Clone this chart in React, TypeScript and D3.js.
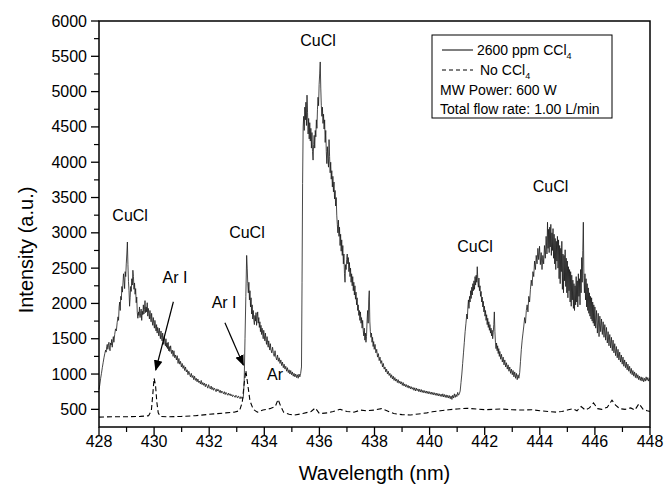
import React from "react";
import * as d3 from "d3";

// ---- Data ----
const xDomain: [number, number] = [428, 448];
const yDomain: [number, number] = [250, 6000];
const xMajorTicks = [428, 430, 432, 434, 436, 438, 440, 442, 444, 446, 448];
const yMajorTicks = [500, 1000, 1500, 2000, 2500, 3000, 3500, 4000, 4500, 5000, 5500, 6000];

// 2600 ppm CCl4 spectrum [wavelength nm, intensity a.u.]
const ccl4Spectrum: [number, number][] = [
  [428.00, 780], [428.03, 850], [428.06, 940], [428.09, 1010], [428.12, 1090], [428.15, 1160], [428.18, 1230], [428.21, 1290],
  [428.24, 1340], [428.26, 1310], [428.28, 1390], [428.30, 1420], [428.32, 1350], [428.34, 1400], [428.36, 1450], [428.38, 1370],
  [428.40, 1330], [428.42, 1440], [428.44, 1410], [428.46, 1490], [428.48, 1380], [428.50, 1460], [428.52, 1530], [428.54, 1450],
  [428.57, 1560], [428.60, 1640], [428.63, 1610], [428.66, 1730], [428.69, 1810], [428.71, 1760], [428.73, 1950], [428.75, 2020],
  [428.77, 1900], [428.79, 2100], [428.81, 2050], [428.83, 2240], [428.85, 2160], [428.87, 2290], [428.89, 2420], [428.91, 2330],
  [428.93, 2210], [428.95, 2450], [428.97, 2380], [428.99, 2560], [429.01, 2700], [429.03, 2870], [429.05, 2550], [429.07, 2310],
  [429.09, 2180], [429.11, 1960], [429.13, 2080], [429.15, 2240], [429.17, 2170], [429.19, 2350], [429.21, 2260], [429.23, 2470],
  [429.25, 2380], [429.27, 2200], [429.29, 2290], [429.31, 2130], [429.33, 2210], [429.35, 2010], [429.37, 2090], [429.39, 1870],
  [429.41, 1790], [429.43, 1880], [429.45, 1830], [429.47, 1950], [429.49, 1800], [429.51, 1860], [429.53, 1920], [429.55, 1760],
  [429.57, 1890], [429.59, 1840], [429.61, 1980], [429.63, 1850], [429.65, 1910], [429.67, 2040], [429.69, 1870], [429.71, 1950],
  [429.73, 1880], [429.75, 2010], [429.77, 1820], [429.79, 1930], [429.81, 1860], [429.83, 1780], [429.85, 1900], [429.87, 1810],
  [429.89, 1740], [429.91, 1860], [429.93, 1750], [429.95, 1690], [429.97, 1800], [429.99, 1720], [430.01, 1650], [430.03, 1760],
  [430.05, 1680], [430.07, 1610], [430.09, 1700], [430.11, 1580], [430.13, 1660], [430.15, 1620], [430.17, 1540], [430.19, 1650],
  [430.21, 1570], [430.23, 1500], [430.25, 1610], [430.27, 1520], [430.29, 1470], [430.31, 1580], [430.33, 1490], [430.35, 1420],
  [430.37, 1530], [430.39, 1460], [430.41, 1400], [430.43, 1500], [430.45, 1380], [430.47, 1440], [430.49, 1360], [430.51, 1450],
  [430.53, 1330], [430.55, 1390], [430.57, 1320], [430.60, 1400], [430.63, 1290], [430.66, 1340], [430.69, 1250], [430.72, 1330],
  [430.75, 1230], [430.78, 1270], [430.81, 1200], [430.84, 1260], [430.87, 1150], [430.90, 1220], [430.93, 1140], [430.96, 1180],
  [430.99, 1100], [431.02, 1150], [431.05, 1080], [431.08, 1120], [431.11, 1050], [431.14, 1100], [431.17, 1030], [431.20, 1060],
  [431.23, 990], [431.26, 1040], [431.29, 1000], [431.32, 960], [431.35, 1010], [431.38, 950], [431.41, 980], [431.44, 920],
  [431.47, 970], [431.50, 910], [431.53, 940], [431.56, 890], [431.59, 930], [431.62, 880], [431.65, 900], [431.68, 860],
  [431.71, 910], [431.74, 850], [431.77, 880], [431.80, 840], [431.83, 870], [431.86, 820], [431.89, 860], [431.92, 830],
  [431.95, 800], [431.98, 850], [432.01, 810], [432.04, 790], [432.07, 830], [432.10, 780], [432.13, 810], [432.16, 770],
  [432.19, 800], [432.22, 780], [432.25, 750], [432.28, 790], [432.31, 760], [432.34, 780], [432.37, 740], [432.40, 770],
  [432.43, 730], [432.46, 760], [432.49, 740], [432.52, 720], [432.55, 750], [432.58, 710], [432.61, 740], [432.64, 720],
  [432.67, 700], [432.70, 730], [432.73, 700], [432.76, 720], [432.79, 690], [432.82, 710], [432.85, 680], [432.88, 700],
  [432.91, 690], [432.94, 670], [432.97, 700], [433.00, 680], [433.03, 660], [433.06, 690], [433.09, 670], [433.12, 650],
  [433.15, 680], [433.18, 660], [433.21, 640], [433.24, 680], [433.27, 900], [433.30, 1500], [433.33, 2100], [433.36, 2680],
  [433.38, 2500], [433.40, 2280], [433.42, 2150], [433.44, 2300], [433.46, 2050], [433.48, 2180], [433.50, 1950], [433.52, 2080],
  [433.54, 1850], [433.56, 1980], [433.58, 1780], [433.60, 1900], [433.62, 1760], [433.64, 1700], [433.66, 1830], [433.68, 1750],
  [433.70, 1870], [433.72, 1690], [433.74, 1810], [433.76, 1880], [433.78, 1720], [433.80, 1800], [433.82, 1660], [433.84, 1740],
  [433.86, 1600], [433.88, 1690], [433.90, 1560], [433.92, 1650], [433.94, 1580], [433.96, 1500], [433.98, 1620], [434.00, 1540],
  [434.02, 1470], [434.04, 1580], [434.06, 1490], [434.08, 1420], [434.10, 1530], [434.12, 1450], [434.14, 1380], [434.16, 1470],
  [434.18, 1400], [434.20, 1340], [434.22, 1430], [434.24, 1350], [434.27, 1300], [434.30, 1380], [434.33, 1290], [434.36, 1250],
  [434.39, 1330], [434.42, 1240], [434.45, 1200], [434.48, 1270], [434.51, 1180], [434.54, 1230], [434.57, 1150], [434.60, 1200],
  [434.63, 1120], [434.66, 1170], [434.69, 1090], [434.72, 1140], [434.75, 1070], [434.78, 1110], [434.81, 1040], [434.84, 1090],
  [434.87, 1020], [434.90, 1060], [434.93, 1000], [434.96, 1050], [434.99, 990], [435.02, 1030], [435.05, 970], [435.08, 1010],
  [435.11, 960], [435.14, 1000], [435.17, 950], [435.20, 990], [435.23, 940], [435.26, 1000], [435.29, 960], [435.32, 1010],
  [435.35, 1100], [435.37, 2300], [435.39, 3700], [435.41, 4500], [435.43, 4650], [435.45, 4450], [435.47, 4780], [435.49, 4600],
  [435.51, 4850], [435.53, 4520], [435.55, 4950], [435.57, 4700], [435.59, 4400], [435.61, 4620], [435.63, 4330], [435.65, 4560],
  [435.67, 4300], [435.69, 4480], [435.71, 4200], [435.73, 4420], [435.75, 4150], [435.77, 4030], [435.79, 4250], [435.81, 4380],
  [435.83, 4200], [435.85, 4450], [435.87, 4360], [435.89, 4600], [435.91, 4480], [435.93, 4750], [435.95, 4920], [435.97, 4800],
  [435.99, 5100], [436.01, 5250], [436.03, 5420], [436.05, 5050], [436.07, 4800], [436.09, 4650], [436.11, 4780], [436.13, 4550],
  [436.15, 4680], [436.17, 4470], [436.19, 4600], [436.21, 4280], [436.23, 4450], [436.25, 4150], [436.27, 3980], [436.29, 4220],
  [436.31, 4050], [436.33, 3930], [436.35, 4320], [436.37, 4080], [436.39, 3850], [436.41, 4000], [436.43, 3760], [436.45, 3880],
  [436.47, 3650], [436.49, 3800], [436.51, 3580], [436.53, 3720], [436.55, 3480], [436.57, 3600], [436.59, 3380], [436.61, 3500],
  [436.63, 3250], [436.65, 3120], [436.67, 3000], [436.69, 3180], [436.71, 2950], [436.73, 3080], [436.75, 2820], [436.77, 2980],
  [436.79, 2740], [436.81, 2900], [436.83, 2680], [436.85, 2820], [436.87, 2560], [436.89, 2700], [436.91, 2420], [436.93, 2300],
  [436.95, 2550], [436.97, 2480], [436.99, 2620], [437.01, 2700], [437.03, 2560], [437.05, 2650], [437.07, 2450], [437.09, 2580],
  [437.11, 2380], [437.13, 2500], [437.15, 2300], [437.17, 2420], [437.19, 2250], [437.21, 2380], [437.23, 2180], [437.25, 2300],
  [437.27, 2120], [437.29, 2250], [437.31, 2060], [437.33, 2160], [437.35, 1980], [437.37, 2080], [437.39, 1900], [437.41, 1980],
  [437.43, 1830], [437.45, 1900], [437.47, 1760], [437.49, 1880], [437.51, 1720], [437.53, 1800], [437.55, 1650], [437.57, 1760],
  [437.59, 1620], [437.61, 1540], [437.63, 1650], [437.65, 1480], [437.67, 1580], [437.69, 1450], [437.71, 1530], [437.73, 1750],
  [437.75, 1900], [437.77, 1720], [437.79, 2050], [437.81, 2180], [437.83, 1750], [437.85, 1600], [437.87, 1520], [437.89, 1580],
  [437.91, 1450], [437.93, 1520], [437.95, 1390], [437.97, 1460], [437.99, 1350], [438.02, 1420], [438.05, 1300], [438.08, 1350],
  [438.11, 1240], [438.14, 1290], [438.17, 1190], [438.20, 1240], [438.23, 1150], [438.26, 1190], [438.29, 1100], [438.32, 1150],
  [438.35, 1070], [438.38, 1100], [438.41, 1030], [438.44, 1070], [438.47, 1000], [438.50, 1040], [438.53, 980], [438.56, 1010],
  [438.59, 950], [438.62, 990], [438.65, 930], [438.68, 970], [438.71, 910], [438.74, 950], [438.77, 900], [438.80, 930],
  [438.83, 880], [438.86, 920], [438.89, 870], [438.92, 900], [438.95, 860], [438.98, 890], [439.01, 840], [439.04, 880],
  [439.07, 830], [439.10, 860], [439.13, 820], [439.16, 850], [439.19, 810], [439.22, 840], [439.25, 800], [439.28, 830],
  [439.31, 790], [439.34, 820], [439.37, 785], [439.40, 810], [439.43, 770], [439.46, 805], [439.49, 760], [439.52, 800],
  [439.55, 765], [439.58, 790], [439.61, 750], [439.64, 785], [439.67, 745], [439.70, 780], [439.73, 740], [439.76, 770],
  [439.79, 735], [439.82, 765], [439.85, 730], [439.88, 760], [439.91, 725], [439.94, 755], [439.97, 720], [440.00, 750],
  [440.03, 715], [440.06, 745], [440.09, 710], [440.12, 740], [440.15, 705], [440.18, 735], [440.21, 700], [440.24, 730],
  [440.27, 695], [440.30, 725], [440.33, 690], [440.36, 720], [440.39, 685], [440.42, 715], [440.45, 680], [440.48, 720],
  [440.51, 675], [440.54, 710], [440.57, 670], [440.60, 705], [440.63, 665], [440.66, 700], [440.69, 660], [440.72, 695],
  [440.75, 650], [440.78, 690], [440.81, 640], [440.84, 700], [440.87, 660], [440.90, 720], [440.93, 670], [440.96, 710],
  [440.99, 680], [441.02, 740], [441.05, 700], [441.08, 720], [441.11, 760], [441.14, 880], [441.17, 1000], [441.20, 1150],
  [441.23, 1300], [441.26, 1450], [441.29, 1600], [441.32, 1720], [441.35, 1850], [441.37, 1780], [441.39, 1950], [441.41, 2050],
  [441.43, 1930], [441.45, 2100], [441.47, 2020], [441.49, 2180], [441.51, 2070], [441.53, 2230], [441.55, 2120], [441.57, 2280],
  [441.59, 2180], [441.61, 2320], [441.63, 2200], [441.65, 2380], [441.67, 2260], [441.69, 2400], [441.71, 2300], [441.73, 2520],
  [441.75, 2330], [441.77, 2230], [441.79, 2360], [441.81, 2180], [441.83, 2250], [441.85, 2100], [441.87, 2170], [441.89, 2020],
  [441.91, 2090], [441.93, 1950], [441.95, 2030], [441.97, 1880], [441.99, 1960], [442.01, 1820], [442.03, 1900], [442.05, 1760],
  [442.07, 1840], [442.09, 1700], [442.11, 1790], [442.13, 1660], [442.15, 1740], [442.17, 1620], [442.19, 1700], [442.21, 1580],
  [442.23, 1650], [442.25, 1540], [442.27, 1620], [442.29, 1500], [442.31, 1590], [442.33, 1700], [442.35, 1880], [442.37, 1600],
  [442.39, 1450], [442.41, 1360], [442.43, 1440], [442.45, 1330], [442.47, 1400], [442.49, 1290], [442.51, 1360], [442.53, 1250],
  [442.55, 1320], [442.58, 1210], [442.61, 1280], [442.64, 1170], [442.67, 1240], [442.70, 1130], [442.73, 1200], [442.76, 1100],
  [442.79, 1160], [442.82, 1070], [442.85, 1130], [442.88, 1040], [442.91, 1100], [442.94, 1010], [442.97, 1070], [443.00, 990],
  [443.03, 1050], [443.06, 960], [443.09, 1030], [443.12, 940], [443.15, 1010], [443.18, 920], [443.21, 990], [443.24, 940],
  [443.27, 1020], [443.30, 1180], [443.33, 1350], [443.36, 1480], [443.39, 1580], [443.42, 1680], [443.45, 1800], [443.48, 1720],
  [443.51, 1900], [443.54, 1980], [443.57, 1880], [443.60, 2100], [443.63, 2020], [443.66, 2200], [443.69, 2330], [443.72, 2250],
  [443.75, 2450], [443.78, 2380], [443.81, 2600], [443.84, 2480], [443.87, 2680], [443.90, 2560], [443.93, 2780], [443.96, 2620],
  [443.99, 2810], [444.02, 2550], [444.05, 2720], [444.08, 2480], [444.11, 2680], [444.14, 2560], [444.17, 2820], [444.20, 2640],
  [444.23, 2950], [444.26, 2700], [444.28, 3150], [444.30, 2780], [444.32, 3050], [444.34, 2720], [444.36, 3080], [444.38, 2800],
  [444.40, 3120], [444.42, 2680], [444.44, 3000], [444.46, 2750], [444.48, 3060], [444.50, 2640], [444.52, 2980], [444.54, 2560],
  [444.56, 2920], [444.58, 2480], [444.60, 2880], [444.62, 2600], [444.64, 2950], [444.66, 2500], [444.68, 2900], [444.70, 2350],
  [444.72, 2820], [444.74, 2280], [444.76, 2780], [444.78, 2450], [444.80, 2880], [444.82, 2200], [444.84, 2700], [444.86, 2150],
  [444.88, 2680], [444.90, 2320], [444.92, 2760], [444.94, 2240], [444.96, 2640], [444.98, 2150], [445.00, 2600], [445.02, 2080],
  [445.04, 2520], [445.06, 2180], [445.08, 2480], [445.10, 2020], [445.12, 2450], [445.14, 1960], [445.16, 2400], [445.18, 2050],
  [445.20, 2330], [445.22, 1930], [445.24, 2280], [445.26, 1900], [445.28, 2250], [445.30, 1980], [445.32, 2380], [445.34, 2020],
  [445.36, 2320], [445.38, 1950], [445.40, 2420], [445.42, 2100], [445.44, 2350], [445.46, 1980], [445.48, 2480], [445.50, 2150],
  [445.52, 2650], [445.54, 2300], [445.56, 2750], [445.58, 3150], [445.60, 2400], [445.62, 2150], [445.64, 2420], [445.66, 2050],
  [445.68, 2350], [445.70, 1950], [445.72, 2280], [445.74, 1900], [445.76, 2220], [445.78, 1860], [445.80, 2150], [445.82, 1820],
  [445.84, 2100], [445.86, 1780], [445.88, 2080], [445.90, 1750], [445.92, 2020], [445.94, 1720], [445.96, 1980], [445.98, 1680],
  [446.00, 1950], [446.03, 1650], [446.06, 1900], [446.09, 1580], [446.12, 1860], [446.15, 1530], [446.18, 1820], [446.21, 1600],
  [446.24, 1780], [446.27, 1560], [446.30, 1740], [446.33, 1520], [446.36, 1700], [446.39, 1480], [446.42, 1660], [446.45, 1440],
  [446.48, 1600], [446.51, 1400], [446.54, 1560], [446.57, 1370], [446.60, 1520], [446.63, 1330], [446.66, 1480], [446.69, 1300],
  [446.72, 1430], [446.75, 1260], [446.78, 1390], [446.81, 1230], [446.84, 1350], [446.87, 1200], [446.90, 1310], [446.93, 1170],
  [446.96, 1270], [446.99, 1140], [447.02, 1240], [447.05, 1110], [447.08, 1200], [447.11, 1090], [447.14, 1170], [447.17, 1060],
  [447.20, 1140], [447.23, 1040], [447.26, 1110], [447.29, 1010], [447.32, 1080], [447.35, 990], [447.38, 1050], [447.41, 970],
  [447.44, 1030], [447.47, 950], [447.50, 1010], [447.53, 940], [447.56, 990], [447.59, 920], [447.62, 970], [447.65, 910],
  [447.68, 960], [447.71, 900], [447.74, 950], [447.77, 890], [447.80, 940], [447.83, 900], [447.86, 960], [447.89, 910],
  [447.92, 950], [447.95, 900], [447.98, 940],
];

// No CCl4 spectrum
const noCcl4Spectrum: [number, number][] = [
  [428.00, 390], [428.5, 395], [429.0, 395], [429.5, 400], [429.8, 410], [429.9, 480], [429.95, 700], [430.00, 940],
  [430.05, 850], [430.10, 600], [430.15, 450], [430.22, 400], [430.5, 395], [431.0, 400], [431.5, 410], [432.0, 430],
  [432.3, 440], [432.6, 450], [432.9, 460], [433.1, 480], [433.2, 600], [433.28, 900], [433.33, 1050], [433.40, 850],
  [433.48, 620], [433.6, 500], [433.75, 460], [433.95, 490], [434.2, 510], [434.4, 540], [434.5, 640], [434.58, 560],
  [434.7, 460], [434.9, 430], [435.1, 420], [435.4, 440], [435.7, 470], [435.85, 520], [436.0, 440], [436.3, 450],
  [436.5, 470], [436.75, 500], [437.0, 470], [437.25, 460], [437.5, 490], [437.7, 480], [438.0, 490], [438.25, 510],
  [438.45, 480], [438.7, 440], [439.0, 425], [439.3, 420], [439.6, 435], [439.9, 450], [440.1, 465], [440.4, 480],
  [440.7, 495], [441.0, 505], [441.35, 515], [441.7, 505], [442.0, 495], [442.3, 500], [442.6, 505], [443.0, 495],
  [443.3, 490], [443.7, 495], [444.0, 480], [444.3, 470], [444.6, 460], [444.8, 470], [445.0, 490], [445.2, 510],
  [445.35, 480], [445.5, 540], [445.65, 490], [445.8, 520], [445.95, 590], [446.1, 510], [446.25, 500], [446.45, 530],
  [446.62, 630], [446.75, 560], [446.9, 510], [447.1, 500], [447.3, 520], [447.45, 490], [447.6, 580], [447.75, 500],
  [447.9, 480], [448.0, 470],
];

// Peak annotations: label, wavelength, intensity (label centre)
const peakLabels = ["CuCl", "Ar I", "CuCl", "Ar I", "Ar", "CuCl", "CuCl", "CuCl"];
const peakLabelNm = [429.13, 430.76, 433.37, 432.54, 434.39, 435.95, 441.65, 444.39];
const peakLabelIntensity = [3252, 2378, 3015, 2024, 1000, 5730, 2813, 3663];

// Arrows: [startNm, startIntensity, endNm, endIntensity]
const arrows: [number, number, number, number][] = [
  [430.70, 2024, 430.06, 1057],
  [432.57, 1727, 433.24, 1128],
];

const legendSeries = ["2600 ppm CCl", "No CCl"];
const legendNotes = ["MW Power: 600 W", "Total flow rate: 1.00 L/min"];

const W = 664;
const H = 488;
const FONT = "'Liberation Sans', Arial, Helvetica, sans-serif";

export default function App() {
  const x = d3.scaleLinear().domain(xDomain).range([99, 650]);
  const y = d3.scaleLinear().domain(yDomain).range([427, 21]);
  const line = d3
    .line<[number, number]>()
    .x((d) => x(d[0]))
    .y((d) => y(d[1]));

  const xMinor = d3.range(429, 448, 2);
  const yMinor = d3.range(750, 6000, 500);
  const [x0, x1] = x.range();
  const [y0, y1] = y.range();

  return (
    <svg
      width={W}
      height={H}
      style={{ position: "absolute", left: 0, top: 0, display: "block", background: "#fff" }}
      fontFamily={FONT}
    >
      <defs>
        <marker id="ah" viewBox="0 0 10 10" refX="9" refY="5" markerWidth="9" markerHeight="9" orient="auto">
          <path d="M0,1 L10,5 L0,9 z" fill="#000" />
        </marker>
      </defs>
      <rect x={0} y={0} width={W} height={H} fill="#fff" />

      {/* data */}
      <path d={line(noCcl4Spectrum) || ""} fill="none" stroke="#000" strokeWidth={1.1} strokeDasharray="5,3" />
      <path d={line(ccl4Spectrum) || ""} fill="none" stroke="#1a1a1a" strokeWidth={0.8} strokeLinejoin="round" />

      {/* frame */}
      <rect x={x0} y={y1} width={x1 - x0} height={y0 - y1} fill="none" stroke="#000" strokeWidth={1.5} />

      {/* x ticks */}
      {xMajorTicks.map((t) => (
        <g key={"xt" + t}>
          <line x1={x(t)} x2={x(t)} y1={y0} y2={y0 + 8} stroke="#000" strokeWidth={1.3} />
          <text x={x(t)} y={y0 + 20} fontSize={16} textAnchor="middle">
            {t}
          </text>
        </g>
      ))}
      {xMinor.map((t) => (
        <line key={"xm" + t} x1={x(t)} x2={x(t)} y1={y0} y2={y0 + 5} stroke="#000" strokeWidth={1.2} />
      ))}

      {/* y ticks */}
      {yMajorTicks.map((t) => (
        <g key={"yt" + t}>
          <line x1={x0 - 8} x2={x0} y1={y(t)} y2={y(t)} stroke="#000" strokeWidth={1.3} />
          <text x={x0 - 12} y={y(t) + 5.5} fontSize={16} textAnchor="end">
            {t}
          </text>
        </g>
      ))}
      {yMinor.map((t) => (
        <line key={"ym" + t} x1={x0 - 5} x2={x0} y1={y(t)} y2={y(t)} stroke="#000" strokeWidth={1.2} />
      ))}

      {/* axis titles */}
      <text x={(x0 + x1) / 2} y={480} fontSize={20} textAnchor="middle">
        Wavelength (nm)
      </text>
      <text transform={`translate(33, 250) rotate(-90)`} fontSize={20} textAnchor="middle">
        Intensity (a.u.)
      </text>

      {/* annotations */}
      {peakLabels.map((lab, i) => (
        <text
          key={"pl" + i}
          x={x(peakLabelNm[i])}
          y={y(peakLabelIntensity[i]) + 6}
          fontSize={16}
          textAnchor="middle"
        >
          {lab}
        </text>
      ))}
      {arrows.map((a, i) => (
        <line
          key={"ar" + i}
          x1={x(a[0])}
          y1={y(a[1])}
          x2={x(a[2])}
          y2={y(a[3])}
          stroke="#000"
          strokeWidth={1.2}
          markerEnd="url(#ah)"
        />
      ))}

      {/* legend */}
      <g fontSize={14}>
        <rect x={432} y={35} width={180} height={83} fill="#fff" stroke="#000" strokeWidth={1} />
        <line x1={442} x2={473} y1={50} y2={50} stroke="#000" strokeWidth={1} />
        <text x={477} y={55}>
          {legendSeries[0]}
          <tspan fontSize={9} dy={4}>4</tspan>
        </text>
        <line x1={442} x2={473} y1={70} y2={70} stroke="#000" strokeWidth={1} strokeDasharray="4,3" />
        <text x={480} y={75}>
          {legendSeries[1]}
          <tspan fontSize={9} dy={4}>4</tspan>
        </text>
        <text x={440} y={95}>{legendNotes[0]}</text>
        <text x={440} y={114}>{legendNotes[1]}</text>
      </g>
    </svg>
  );
}
